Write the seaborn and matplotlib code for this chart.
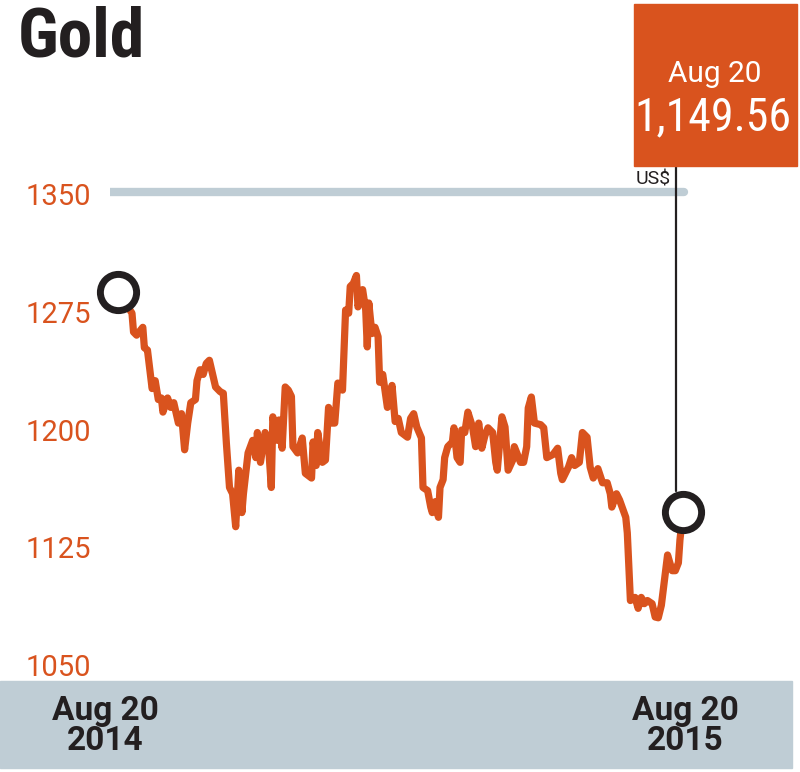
import matplotlib
matplotlib.use("Agg")
import matplotlib.pyplot as plt
import seaborn as sns
import pandas as pd
from matplotlib.patches import Rectangle
from matplotlib import font_manager

# gold price, days since Aug 20 2014
days = [0, 9, 10, 12, 16, 17, 19, 22, 24, 25, 26, 28, 29, 32, 34, 36, 39, 41, 43, 45,
        47, 50, 51, 53, 55, 57, 59, 63, 66, 68, 70, 72, 74, 76, 78, 80, 81, 84, 87, 89,
        90, 92, 95, 97, 99, 100, 103, 104, 106, 108, 110, 112, 113, 116, 119, 121, 125, 126, 128, 129,
        132, 134, 136, 138, 140, 142, 145, 147, 149, 150, 152, 154, 155, 158, 160, 161, 162, 164, 166, 168,
        169, 171, 174, 177, 179, 181, 183, 187, 189, 191, 193, 196, 197, 200, 202, 203, 205, 207, 208, 210,
        211, 213, 216, 217, 219, 221, 222, 224, 226, 229, 231, 233, 235, 237, 239, 242, 244, 245, 248, 250,
        252, 255, 256, 260, 262, 264, 265, 267, 269, 273, 275, 277, 281, 284, 286, 287, 291, 293, 295, 298,
        300, 303, 305, 307, 310, 313, 316, 318, 319, 322, 324, 328, 329, 331, 334, 336, 338, 340, 342, 345,
        347, 349, 351, 353, 355, 358, 360, 362, 363, 365]
price = [1289.5, 1276, 1264, 1262, 1267, 1254, 1252.5, 1228, 1233, 1227, 1221, 1222, 1213, 1222, 1216, 1219, 1206, 1212, 1189, 1206,
         1219, 1221, 1233, 1240, 1237, 1244, 1246, 1229, 1226, 1225, 1193, 1165, 1161, 1140, 1176, 1149, 1161, 1187, 1195, 1184,
         1200, 1181, 1200, 1195, 1165, 1210, 1195, 1208, 1190, 1229, 1227, 1223, 1191, 1187, 1196.5, 1174, 1171, 1194, 1179, 1200,
         1181, 1182.5, 1216, 1206, 1206, 1231.5, 1227, 1278, 1276, 1293, 1295, 1300, 1280, 1291, 1278, 1254.5, 1282.5, 1263, 1267, 1261,
         1232, 1237, 1216, 1230, 1207, 1209, 1200, 1197, 1209, 1212, 1203.5, 1196.5, 1165, 1163, 1152.5, 1149, 1156, 1146, 1165, 1170,
         1184, 1191, 1194, 1203, 1184, 1181, 1201.6, 1200, 1213, 1203.5, 1191, 1206, 1190, 1198, 1203, 1200, 1181, 1176, 1210, 1203.5,
         1176, 1182.5, 1191, 1181, 1181, 1191, 1215.6, 1222.6, 1206, 1205, 1203, 1184, 1186, 1190, 1174, 1170, 1178, 1184, 1179, 1181,
         1200, 1197, 1178, 1171, 1177, 1168, 1168, 1161, 1152.5, 1161, 1157, 1146, 1136, 1093, 1095, 1088, 1095, 1091, 1093, 1091,
         1082.5, 1082, 1090, 1106, 1122, 1112, 1112, 1117, 1131.5, 1149.56]

yticks = [1050, 1125, 1200, 1275, 1350]
xlabels = ["Aug 20\n2014", "Aug 20\n2015"]
last_date = "Aug 20"
last_value = "1,149.56"

orange = "#d9531e"
grey = "#bfcdd5"
dark = "#231f20"

names = {f.name for f in font_manager.fontManager.ttflist}
narrow = "Roboto Condensed" if "Roboto Condensed" in names else "Roboto"
regular = "Roboto"

sns.set_style("white")
plt.rcParams["font.family"] = [regular, "DejaVu Sans"]

df = pd.DataFrame({"day": days, "price": price})

fig = plt.figure(figsize=(8, 7.72), dpi=100)
ax = fig.add_axes([0.1375, 0.1192, 0.725, 0.6476])

# grey band at bottom
fig.patches.append(Rectangle((0, 1 - 768 / 772), 792 / 800, 87 / 772,
                             transform=fig.transFigure, color=grey, zorder=0))

# top reference rule (sits just above the 1350 label)
ax.axhline(1353, xmin=0, xmax=0.99, color=grey, lw=6, zorder=1)

sns.lineplot(data=df, x="day", y="price", ax=ax, color=orange, lw=5.2, zorder=3)

ax.scatter([days[0], days[-1]], [price[0], price[-1]], s=680, facecolor="white",
           edgecolor=dark, linewidth=5, zorder=5, clip_on=False)

ax.set_xlim(-5.2, 369.5)
ax.set_ylim(1042.4, 1360.8)
ax.set_xticks([])
ax.set_yticks([])
ax.set_xlabel("")
ax.set_ylabel("")
sns.despine(ax=ax, left=True, bottom=True)

for v in yticks:
    ax.text(-0.145, v, str(v), transform=ax.get_yaxis_transform(), ha="left",
            va="center", color=orange, fontsize=21)

# vertical pointer to the box
ax.plot([360.3, 360.3], [price[-1] + 13, 1370], color=dark, lw=1.6, zorder=4,
        clip_on=False)

fig.text(0.022, 1 - 38 / 772, "Gold", fontsize=50, fontweight="bold", color=dark,
         ha="left", va="center", family=narrow)

fig.patches.append(Rectangle((634 / 800, 1 - 166 / 772), 163 / 800, 162 / 772,
                             transform=fig.transFigure, color=orange, zorder=2))
fig.text(715 / 800, 1 - 74 / 772, last_date, color="white", fontsize=21.5,
         ha="center", va="center")
fig.text(713 / 800, 1 - 117 / 772, last_value, color="white", fontsize=33,
         ha="center", va="center", family=narrow)
fig.text(671 / 800, 1 - 179 / 772, "US$", color=dark, fontsize=14,
         ha="right", va="center")

fig.text(105 / 800, 1 - 726 / 772, xlabels[0], fontsize=24, fontweight="bold",
         color=dark, ha="center", va="center", linespacing=0.95)
fig.text(685 / 800, 1 - 726 / 772, xlabels[1], fontsize=24, fontweight="bold",
         color=dark, ha="center", va="center", linespacing=0.95)

fig.savefig("out.png", dpi=100)
